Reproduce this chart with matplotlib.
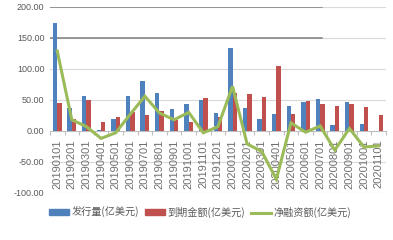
import matplotlib
matplotlib.use("Agg")
import matplotlib.pyplot as plt
import numpy as np
from matplotlib.lines import Line2D
from matplotlib.patches import Patch

months = ["20190101", "20190201", "20190301", "20190401", "20190501", "20190601",
          "20190701", "20190801", "20190901", "20191001", "20191101", "20191201",
          "20200101", "20200201", "20200301", "20200401", "20200501", "20200601",
          "20200701", "20200801", "20200901", "20201001", "20201101"]
issuance = [174, 37, 57, 2, 19, 57, 81, 61, 36, 44, 50, 29,
            134, 37, 20, 27, 40, 46, 51, 9, 47, 12, 0]
maturity = [45, 19, 50, 14, 22, 30, 25, 32, 18, 14, 53, 22,
            62, 60, 54, 105, 27, 48, 43, 40, 43, 39, 25]
net = [129, 18, 7, -12, -3, 27, 56, 29, 18, 30, -3, 7,
       72, -21, -33, -78, 13, -2, 8, -31, 4, -26, -24]

labels = ["发行量(亿美元)", "到期金额(亿美元)", "净融资额(亿美元)"]
yticks = [-100, -50, 0, 50, 100, 150, 200]

blue = "#4F81BD"
red = "#C0504D"
green = "#9BBB59"
gray_txt = "#595959"

plt.rcParams['font.family'] = ['Liberation Sans', 'Noto Sans CJK SC', 'DejaVu Sans']

fig = plt.figure(figsize=(3.93, 2.40), dpi=100)
ax = fig.add_axes([0.127, 0.196, 0.855, 0.775])

x = np.arange(len(months))
w = 0.3
ax.bar(x - w / 2, issuance, width=w, color=blue, zorder=3)
ax.bar(x + w / 2, maturity, width=w, color=red, zorder=3)
ax.plot(x, net, color=green, lw=2.2, zorder=4, solid_joinstyle='miter')

ax.set_xlim(-0.5, len(months) - 0.5)
ax.set_ylim(-100, 200)
ax.set_yticks(yticks)
ax.set_yticklabels([f"{v:.2f}" for v in yticks], fontsize=6.5, color=gray_txt)
ax.tick_params(axis='y', length=0, pad=4)

for v in yticks:
    if v != 0:
        ax.axhline(v, color="#D9D9D9", lw=0.8, zorder=1)
for v in [150, 200]:
    ax.axhline(v, xmin=0, xmax=0.81, color="#808080", lw=1.1, zorder=1.5)

for s in ['top', 'right', 'left']:
    ax.spines[s].set_visible(False)
ax.spines['bottom'].set_position(('data', 0))
ax.spines['bottom'].set_color("#BFBFBF")
ax.spines['bottom'].set_linewidth(0.8)

ax.set_xticks(x)
ax.set_xticklabels(months, rotation=90, fontsize=8, color="#707070")
ax.tick_params(axis='x', length=0, pad=6)
ax.set_xticks(np.arange(-0.5, len(months), 1), minor=True)
ax.tick_params(axis='x', which='minor', length=3, color="#BFBFBF", width=0.8)

handles = [Patch(color=blue), Patch(color=red), Line2D([0], [0], color=green, lw=2.2)]
leg = fig.legend(handles, labels, loc='center', bbox_to_anchor=(0.509, 0.115), ncol=3,
                 frameon=False, handlelength=2.0, handleheight=0.5,
                 handletextpad=0.3, columnspacing=0.5,
                 prop={'family': ['Noto Sans CJK SC', 'DejaVu Sans'], 'size': 7.3})
for t in leg.get_texts():
    t.set_color(gray_txt)

fig.savefig("out.png", dpi=100)
